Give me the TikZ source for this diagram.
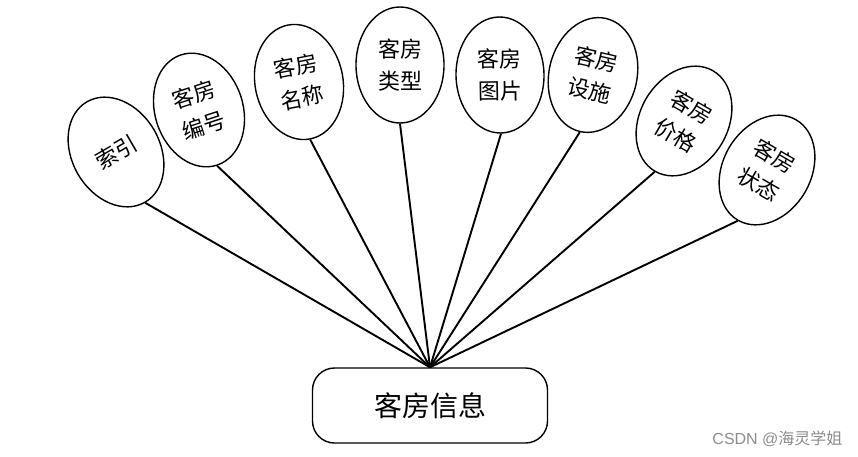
\documentclass[tikz,border=0pt]{standalone}
\usepackage{fontspec}
\newfontfamily\cjk{Noto Sans CJK SC}
\usetikzlibrary{shapes.geometric}
\begin{document}
\begin{tikzpicture}[x=1pt,y=-1pt,
  attr/.style={draw=black, line width=1.4pt, ellipse, minimum width=88pt, minimum height=116pt,
    inner sep=0pt, align=center, font=\cjk\fontsize{22}{32}\selectfont, fill=white},
  entity/.style={draw=black, line width=1.4pt, rounded corners=22pt, minimum width=235pt,
    minimum height=75pt, inner sep=0pt, font=\cjk\fontsize{28}{34}\selectfont, fill=white},
  link/.style={draw=black, line width=1.9pt}]
\useasboundingbox (0,0) rectangle (858,457);
\node[entity] (box) at (430,405.5) {客房信息};
\node[attr, rotate=30] (e1) at (116,152) {索引};
\node[attr, rotate=18] (e2) at (199,110) {客房\\编号};
\node[attr, rotate=11] (e3) at (299,82) {客房\\名称};
\node[attr] (e4) at (400,65) {客房\\类型};
\node[attr, rotate=1] (e5) at (500,75) {客房\\图片};
\node[attr, rotate=-13] (e6) at (593,75) {客房\\设施};
\node[attr, rotate=-30] (e7) at (684,121) {客房\\价格};
\node[attr, rotate=-30] (e8) at (767,170) {客房\\状态};
\foreach \e in {e1,e2,e3,e4,e5,e6,e7,e8}
  \draw[link] (box.north) -- (\e.south);
\node[text=black!45, font=\fontspec{Liberation Sans}\fontsize{16}{18}\selectfont, anchor=east] (wm) at (846,439) {CSDN @{\cjk 海灵学姐}};
\end{tikzpicture}
\end{document}
